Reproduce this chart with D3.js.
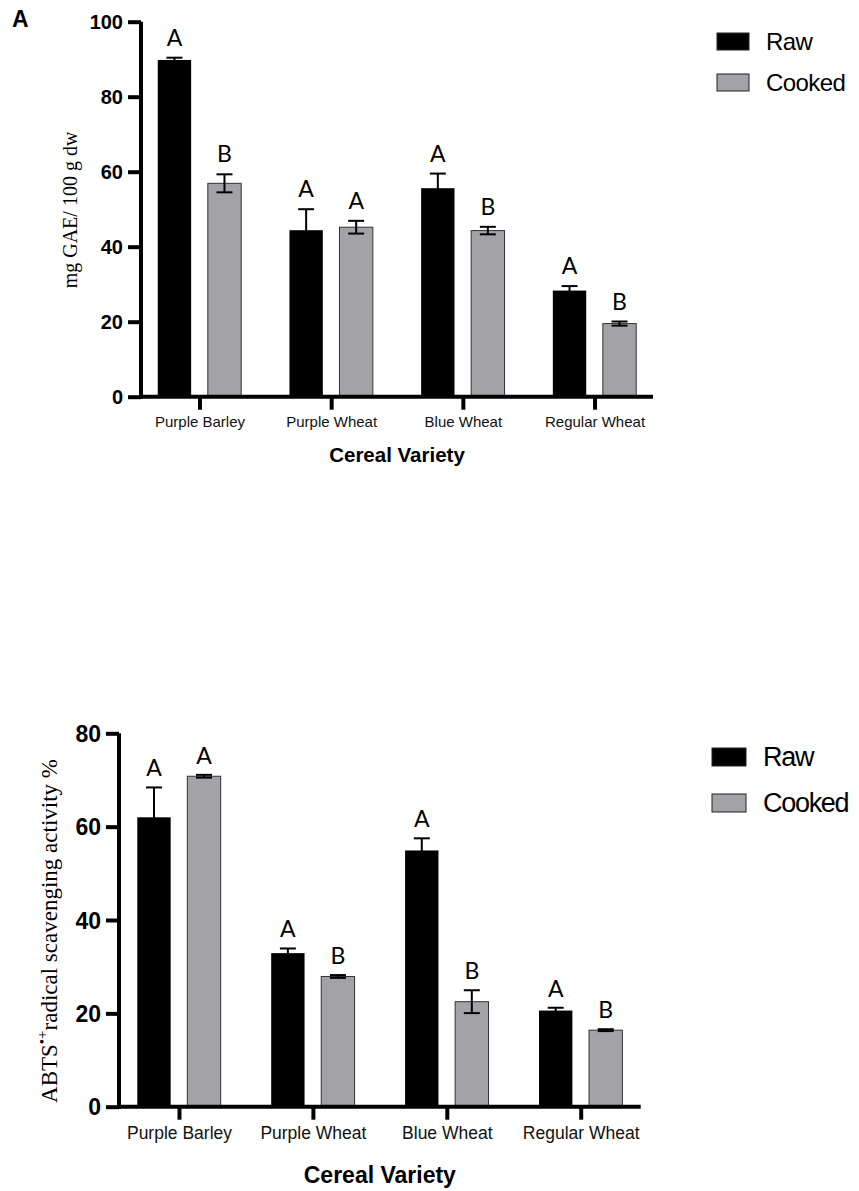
<!DOCTYPE html>
<html lang="en">
<head>
<meta charset="UTF-8">
<script src="https://cdnjs.cloudflare.com/ajax/libs/d3/7.8.5/d3.min.js"></script>
<title>Cereal variety bars</title>
<style>
    body { margin: 0; background: white; }
    svg { display: block; }
    .tick-lbl { font-family: 'Liberation Sans', Arial, sans-serif; font-weight: bold; }
    .cat-lbl { font-family: 'Liberation Sans', Arial, sans-serif; }
    .ylab { font-family: 'Liberation Serif', 'Times New Roman', serif; }
    .letter { font-family: Lato, 'Open Sans', sans-serif; }
</style>
</head>
<body>
<svg id="chart"></svg>
<script>
    // data
    const cereals = ['Purple Barley', 'Purple Wheat', 'Blue Wheat', 'Regular Wheat']
    const series = ['Raw', 'Cooked']
    const seriesColors = ['#000000', '#a3a3a7']

    // panel A: total phenolics (mg GAE / 100 g dw)
    const phenolRaw = [89.8, 44.4, 55.6, 28.3]
    const phenolRawErr = [0.6, 5.6, 3.9, 1.2]
    const phenolCooked = [56.9, 45.2, 44.3, 19.5]
    const phenolCookedErr = [2.4, 1.7, 1.0, 0.55]
    const phenolRawLetters = ['A', 'A', 'A', 'A']
    const phenolCookedLetters = ['B', 'A', 'B', 'B']
    const phenolTicks = [0, 20, 40, 60, 80, 100]

    // panel B: ABTS radical scavenging (%)
    const abtsRaw = [62.0, 32.9, 54.9, 20.6]
    const abtsRawErr = [6.4, 1.0, 2.6, 0.6]
    const abtsCooked = [70.8, 27.9, 22.5, 16.4]
    const abtsCookedErr = [0.3, 0.3, 2.45, 0.2]
    const abtsRawLetters = ['A', 'A', 'A', 'A']
    const abtsCookedLetters = ['A', 'B', 'B', 'B']
    const abtsTicks = [0, 20, 40, 60, 80]

    const W = 859, H = 1191
    const svg = d3.select('#chart').attr('width', W).attr('height', H)

    function drawPanel(p) {
        const g = svg.append('g')

        const y = d3.scaleLinear()
            .domain([0, d3.max(p.ticks)])
            .range([p.bottom, p.top])

        const x = d3.scalePoint()
            .domain(cereals)
            .range([p.left, p.right])
            .padding(p.pad)

        const x1 = d3.scaleBand()
            .domain(series)
            .range([-41.7, 41.7])
            .paddingInner(0.333)

        const rows = []
        cereals.forEach((c, i) => {
            rows.push({ c, s: 'Raw', v: p.raw[i], e: p.rawErr[i], l: p.rawLetters[i] })
            rows.push({ c, s: 'Cooked', v: p.cooked[i], e: p.cookedErr[i], l: p.cookedLetters[i] })
        })
        const cx = d => x(d.c) + x1(d.s) + x1.bandwidth() / 2

        // bars
        g.selectAll('rect.bar')
            .data(rows)
            .enter()
            .append('rect')
            .attr('x', d => x(d.c) + x1(d.s))
            .attr('y', d => y(d.v))
            .attr('width', x1.bandwidth())
            .attr('height', d => y(0) - y(d.v))
            .attr('fill', d => seriesColors[series.indexOf(d.s)])
            .attr('stroke', d => d.s === 'Raw' ? 'none' : '#333')
            .attr('stroke-width', 1)

        // error bars
        const eb = g.selectAll('g.err')
            .data(rows)
            .enter()
            .append('g')
            .attr('stroke', '#000')
            .attr('stroke-width', 2)
        eb.append('line')
            .attr('x1', cx).attr('x2', cx)
            .attr('y1', d => y(d.v + d.e)).attr('y2', d => y(d.v - d.e))
        eb.append('line')
            .attr('x1', d => cx(d) - 8).attr('x2', d => cx(d) + 8)
            .attr('y1', d => y(d.v + d.e)).attr('y2', d => y(d.v + d.e))
        eb.append('line')
            .attr('x1', d => cx(d) - 8).attr('x2', d => cx(d) + 8)
            .attr('y1', d => y(d.v - d.e)).attr('y2', d => y(d.v - d.e))

        // significance letters
        g.selectAll('text.letter')
            .data(rows)
            .enter()
            .append('text')
            .attr('class', 'letter')
            .attr('x', cx)
            .attr('y', d => y(d.v + d.e) - p.letterGap)
            .attr('text-anchor', 'middle')
            .attr('font-size', 23)
            .text(d => d.l)

        // y axis
        const yAxis = d3.axisLeft(y).tickValues(p.ticks).tickSize(13).tickPadding(5)
        const ya = g.append('g')
            .attr('transform', 'translate(' + p.left + ',0)')
            .call(yAxis)
        ya.select('.domain').attr('stroke-width', 4).attr('d', 'M0,' + (p.bottom + 2) + 'V' + p.top)
        ya.selectAll('.tick line').attr('stroke-width', 4)
        ya.selectAll('.tick text')
            .attr('class', 'tick-lbl')
            .attr('font-size', p.tickFont)
            .attr('fill', '#000')
            .attr('dy', '0.36em')

        // x axis
        const xAxis = d3.axisBottom(x).tickSize(13).tickPadding(7)
        const xa = g.append('g')
            .attr('transform', 'translate(0,' + p.bottom + ')')
            .call(xAxis)
        xa.select('.domain').attr('stroke-width', 4).attr('d', 'M' + (p.left - 2) + ',0H' + p.right)
        xa.selectAll('.tick line').attr('stroke-width', 4)
        xa.selectAll('.tick text')
            .attr('class', 'cat-lbl')
            .attr('font-size', p.catFont)
            .attr('fill', '#111')

        // axis titles
        g.append('text')
            .attr('x', (p.left + p.right) / 2)
            .attr('y', p.xTitleY)
            .attr('text-anchor', 'middle')
            .attr('class', 'tick-lbl')
            .attr('font-size', p.xTitleFont)
            .text('Cereal Variety')

        const yl = g.append('text')
            .attr('class', 'ylab')
            .attr('text-anchor', 'middle')
            .attr('font-size', p.yTitleFont)
            .attr('transform', 'translate(' + p.yTitleX + ',' + p.yTitleMid + ') rotate(-90)')
        p.yTitle(yl)

        // legend
        const lg = g.append('g')
            .attr('transform', 'translate(' + p.legX + ',' + p.legY + ')')
        series.forEach((s, i) => {
            lg.append('rect')
                .attr('x', 0)
                .attr('y', i * p.legStep)
                .attr('width', p.legW)
                .attr('height', p.legH)
                .attr('fill', seriesColors[i])
                .attr('stroke', '#222')
                .attr('stroke-width', 1)
            lg.append('text')
                .attr('class', 'cat-lbl')
                .attr('x', p.legW + 17)
                .attr('y', i * p.legStep + p.legH)
                .attr('font-size', p.legFont)
                .attr('letter-spacing', p.legSpacing)
                .text(s)
        })
    }

    drawPanel({
        raw: phenolRaw, rawErr: phenolRawErr, cooked: phenolCooked, cookedErr: phenolCookedErr,
        rawLetters: phenolRawLetters, cookedLetters: phenolCookedLetters, ticks: phenolTicks,
        left: 141, right: 653, top: 21.7, bottom: 396.7, pad: 0.444,
        tickFont: 20, catFont: 15, letterGap: 12,
        xTitleY: 462, xTitleFont: 20.5,
        yTitleX: 77, yTitleMid: 210, yTitleFont: 20,
        yTitle: t => t.text('mg GAE/ 100 g dw'),
        legX: 717, legY: 33, legW: 32, legH: 17, legStep: 41, legFont: 24, legSpacing: -0.6
    })

    drawPanel({
        raw: abtsRaw, rawErr: abtsRawErr, cooked: abtsCooked, cookedErr: abtsCookedErr,
        rawLetters: abtsRawLetters, cookedLetters: abtsCookedLetters, ticks: abtsTicks,
        left: 119, right: 640.7, top: 733.3, bottom: 1106.7, pad: 0.448,
        tickFont: 23, catFont: 17.5, letterGap: 11,
        xTitleY: 1183, xTitleFont: 23,
        yTitleX: 57, yTitleMid: 931, yTitleFont: 23,
        yTitle: t => {
            t.append('tspan').text('ABTS')
            t.append('tspan').attr('font-size', 15).attr('dy', -10).text('•+')
            t.append('tspan').attr('dy', 10).text('radical scavenging activity %')
        },
        legX: 712, legY: 748, legW: 34, legH: 18, legStep: 46, legFont: 27, legSpacing: -1.3
    })

    // panel tag
    svg.append('text')
        .attr('x', 12)
        .attr('y', 27)
        .attr('class', 'tick-lbl')
        .attr('font-size', 23)
        .text('A')
</script>
</body>
</html>
